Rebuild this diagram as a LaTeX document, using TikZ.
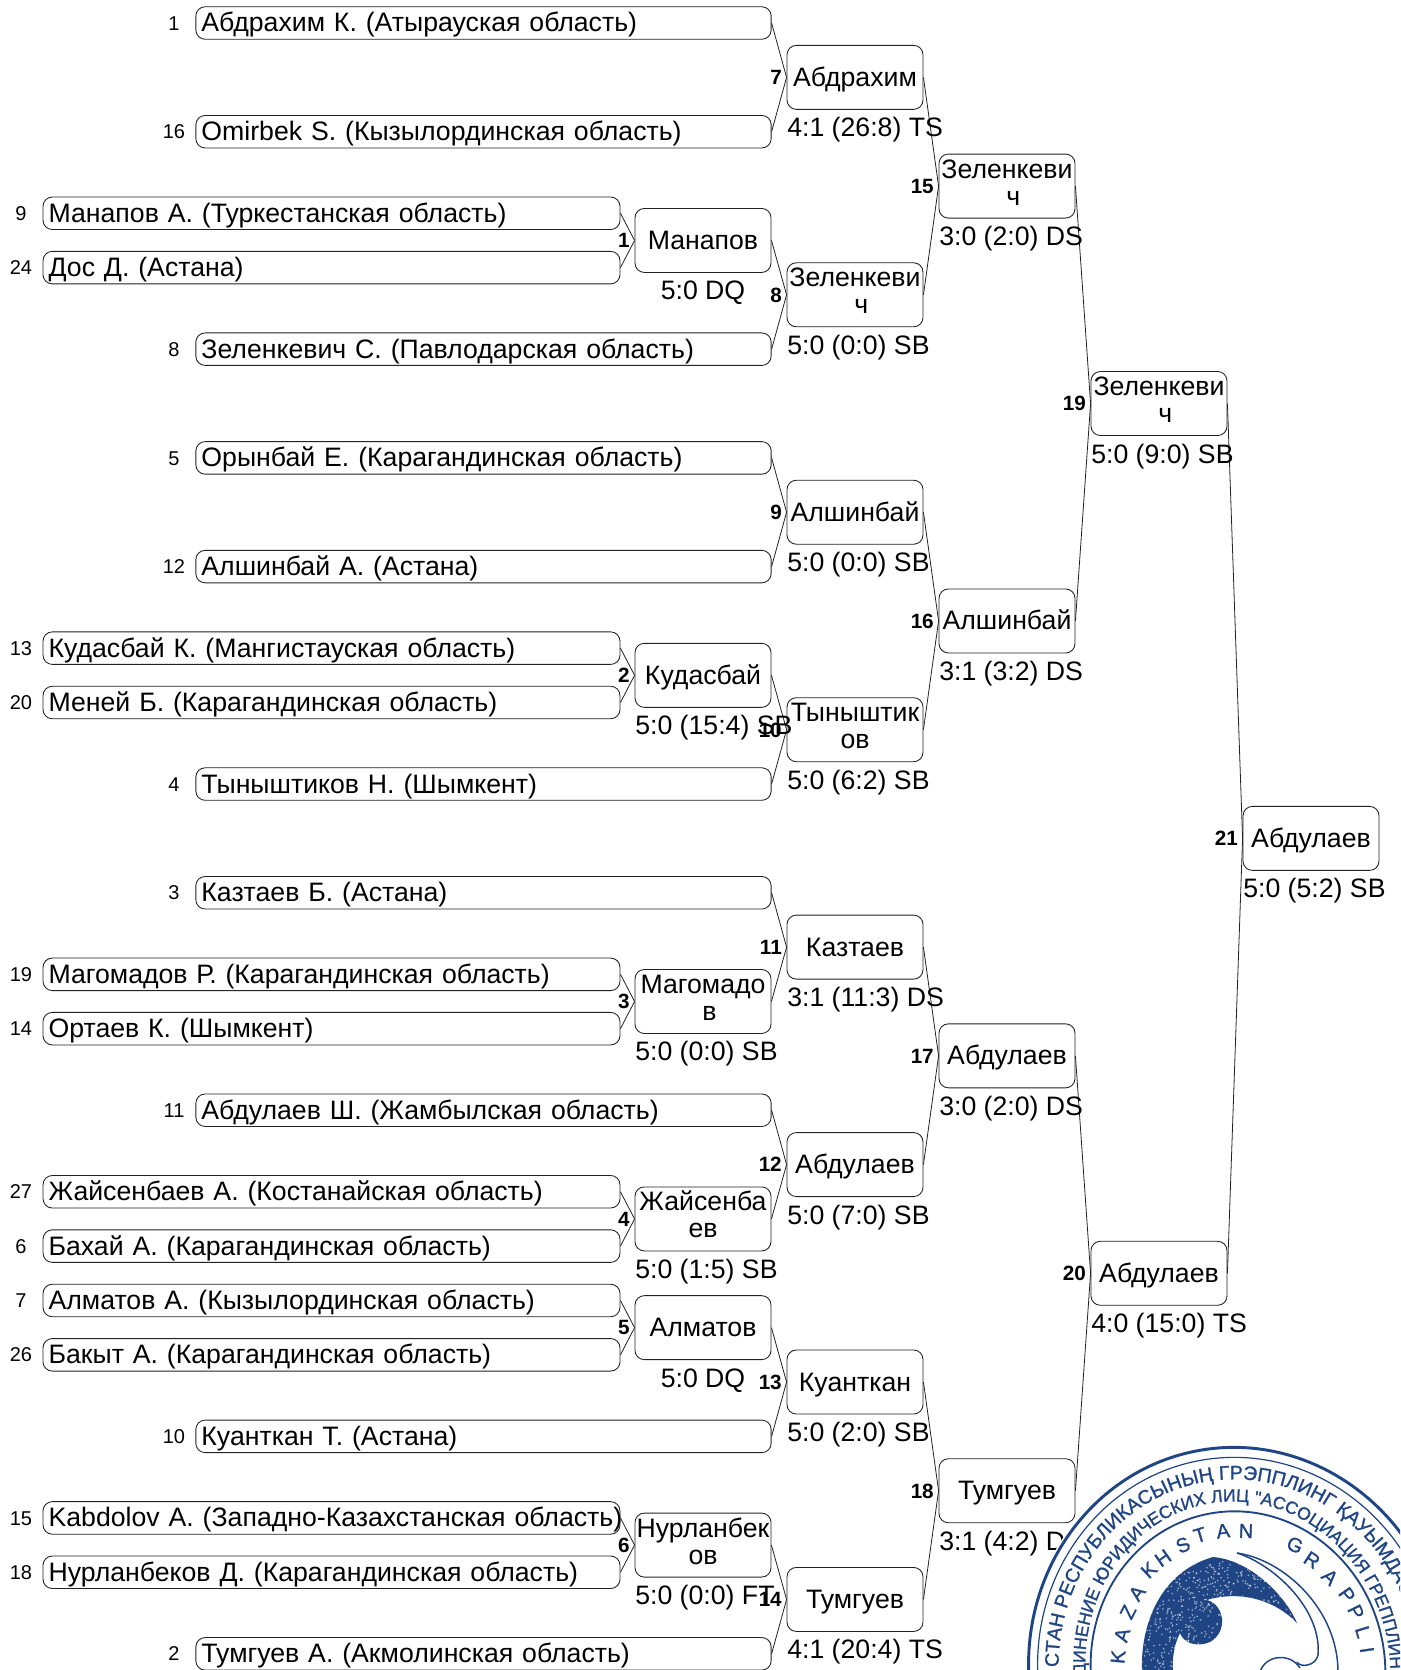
\documentclass[tikz,border=0pt]{standalone}
\usepackage{fontspec}
\setmainfont{Liberation Sans}
\usetikzlibrary{decorations.text}
\definecolor{stampblue}{HTML}{1F4585}
\definecolor{inkline}{HTML}{222222}
\newfontfamily\bandone[LetterSpace=1,FakeBold=1.2]{Liberation Sans}
\newfontfamily\bandthree[FakeBold=1.2]{Liberation Sans}
\tikzset{
  seedbox/.style={draw=inkline,line width=0.65pt,rounded corners=7pt,minimum height=24.4pt,inner xsep=4.2pt,inner ysep=0pt,
    font=\fontsize{20}{20.25}\selectfont,align=left,text height=16pt,text depth=2.5pt},
  winbox/.style={draw=inkline,line width=0.65pt,rounded corners=7pt,minimum width=102pt,minimum height=48pt,inner sep=0pt,
    font=\fontsize{20}{20.25}\selectfont,text height=16pt,text depth=2.5pt},
  seednum/.style={inner sep=0pt,font=\fontsize{15}{15}\selectfont,text height=10.7pt,text depth=0pt},
  matchnum/.style={inner sep=0pt,anchor=east,font=\fontsize{15.5}{15.5}\bfseries\selectfont,text height=11pt,text depth=0pt},
  scoretext/.style={inner sep=0pt,font=\fontsize{20}{20.25}\selectfont},
  conn/.style={draw=inkline,line width=0.6pt},
  ring/.style={draw=stampblue},
  stampletter/.style={inner sep=0pt,text=stampblue,font=\bandthree\fontsize{15}{15}\selectfont},
}
% name, row, seed, text
\newcommand\seedL[4]{%
  \node[seedbox,text width=423.1pt] (#1) at (483.5,{23+27.18*#2}) {\mbox{#4}};
  \node[seednum] (n#1) at (174,{23+27.18*#2}) {#3};}
\newcommand\seedS[4]{%
  \node[seedbox,text width=424.35pt] (#1) at (331.5,{23+27.18*#2}) {\mbox{#4}};
  \node[seednum] (n#1) at (21,{23+27.18*#2}) {#3};}
% name, left, row, number, text
\newcommand\win[5]{%
  \node[winbox] (#1) at ({#2+68},{23+27.18*#3}) {#5};
  \node[matchnum] (n#1) at ({#2-5},{23+27.18*#3}) {#4};}
\newcommand\scoreL[4]{\node[scoretext,anchor=base west] (t#1) at (#2,{23+27.18*#3+59.5}) {#4};}
\newcommand\scoreC[4]{\node[scoretext,anchor=base] (t#1) at ({#2+68},{23+27.18*#3+59.5}) {#4};}
\newcommand\twol[2]{\raisebox{12.75pt}[0pt][0pt]{\begin{tabular}[t]{@{}c@{}}#1\\#2\end{tabular}}}
\newcommand\zel{\twol{Зеленкеви}{\hspace*{9.5pt}ч}}
\begin{document}
\begin{tikzpicture}[x=0.75pt,y=-0.75pt]
\useasboundingbox (0,0) rectangle (1400,1670);
% first column
\seedL{a}{0}{1}{Абдрахим К. (Атырауская область)}
\seedL{b}{4}{16}{Omirbek S. (Кызылординская область)}
\seedS{c}{7}{9}{Манапов А. (Туркестанская область)}
\seedS{d}{9}{24}{Дос Д. (Астана)}
\seedL{e}{12}{8}{Зеленкевич С. (Павлодарская область)}
\seedL{f}{16}{5}{Орынбай Е. (Карагандинская область)}
\seedL{g}{20}{12}{Алшинбай А. (Астана)}
\seedS{h}{23}{13}{Кудасбай К. (Мангистауская область)}
\seedS{i}{25}{20}{Меней Б. (Карагандинская область)}
\seedL{j}{28}{4}{Тыныштиков Н. (Шымкент)}
\seedL{k}{32}{3}{Казтаев Б. (Астана)}
\seedS{l}{35}{19}{Магомадов Р. (Карагандинская область)}
\seedS{m}{37}{14}{Ортаев К. (Шымкент)}
\seedL{n}{40}{11}{Абдулаев Ш. (Жамбылская область)}
\seedS{o}{43}{27}{Жайсенбаев А. (Костанайская область)}
\seedS{p}{45}{6}{Бахай А. (Карагандинская область)}
\seedS{q}{47}{7}{Алматов А. (Кызылординская область)}
\seedS{r}{49}{26}{Бакыт А. (Карагандинская область)}
\seedL{s}{52}{10}{Куанткан Т. (Астана)}
\seedS{t}{55}{15}{Kabdolov А. (Западно-Казахстанская область)}
\seedS{u}{57}{18}{Нурланбеков Д. (Карагандинская область)}
\seedL{v}{60}{2}{Тумгуев А. (Акмолинская область)}
% round boxes
\win{w1}{635}{8}{1}{Манапов}
\win{w2}{635}{24}{2}{Кудасбай}
\win{w3}{635}{36}{3}{\twol{Магомадо}{\hspace*{9.5pt}в}}
\win{w4}{635}{44}{4}{\twol{Жайсенба}{ев}}
\win{w5}{635}{48}{5}{Алматов}
\win{w6}{635}{56}{6}{\twol{Нурланбек}{ов}}
\win{w7}{787}{2}{7}{Абдрахим}
\win{w8}{787}{10}{8}{\zel}
\win{w9}{787}{18}{9}{Алшинбай}
\win{w10}{787}{26}{10}{\twol{Тыныштик}{ов}}
\win{w11}{787}{34}{11}{Казтаев}
\win{w12}{787}{42}{12}{Абдулаев}
\win{w13}{787}{50}{13}{Куанткан}
\win{w14}{787}{58}{14}{Тумгуев}
\win{w15}{939}{6}{15}{\zel}
\win{w16}{939}{22}{16}{Алшинбай}
\win{w17}{939}{38}{17}{Абдулаев}
\win{w18}{939}{54}{18}{Тумгуев}
\win{w19}{1091}{14}{19}{\zel}
\win{w20}{1091}{46}{20}{Абдулаев}
\win{w21}{1243}{30}{21}{Абдулаев}
% connectors
\foreach \p/\q in {a/w7,b/w7,c/w1,d/w1,e/w8,f/w9,g/w9,h/w2,i/w2,j/w10,k/w11,l/w3,m/w3,n/w12,o/w4,p/w4,q/w5,r/w5,s/w13,t/w6,u/w6,v/w14,
  w1/w8,w2/w10,w3/w11,w4/w12,w5/w13,w6/w14,w7/w15,w8/w15,w9/w16,w10/w16,w11/w17,w12/w17,w13/w18,w14/w18,w15/w19,w16/w19,w17/w20,w18/w20,w19/w21,w20/w21}
  \draw[conn] (\p.east) -- (\q.west);
% scores
\scoreC{w1}{635}{8}{5:0 DQ}
\scoreL{w2}{635}{24}{5:0 (15:4) SB}
\scoreL{w3}{635}{36}{5:0 (0:0) SB}
\scoreL{w4}{635}{44}{5:0 (1:5) SB}
\scoreC{w5}{635}{48}{5:0 DQ}
\scoreL{w6}{635}{56}{5:0 (0:0) FT}
\scoreL{w7}{787}{2}{4:1 (26:8) TS}
\scoreL{w8}{787}{10}{5:0 (0:0) SB}
\scoreL{w9}{787}{18}{5:0 (0:0) SB}
\scoreL{w10}{787}{26}{5:0 (6:2) SB}
\scoreL{w11}{787}{34}{3:1 (11:3) DS}
\scoreL{w12}{787}{42}{5:0 (7:0) SB}
\scoreL{w13}{787}{50}{5:0 (2:0) SB}
\scoreL{w14}{787}{58}{4:1 (20:4) TS}
\scoreL{w15}{939}{6}{3:0 (2:0) DS}
\scoreL{w16}{939}{22}{3:1 (3:2) DS}
\scoreL{w17}{939}{38}{3:0 (2:0) DS}
\scoreL{w18}{939}{54}{3:1 (4:2) DS}
\scoreL{w19}{1091}{14}{5:0 (9:0) SB}
\scoreL{w20}{1091}{46}{4:0 (15:0) TS}
\scoreL{w21}{1243}{30}{5:0 (5:2) SB}
% stamp
\begin{scope}
\clip (0,0) rectangle (1400,1670);
\begin{scope}[shift={(1238,1669)},rotate=10,x=0.75pt,y=0.75pt]
  \fill[white] (0,0) ellipse[x radius=212,y radius=225];
  \draw[ring,line width=2.2pt] (0,0) ellipse[x radius=209,y radius=222];
  \draw[ring,line width=0.9pt] (0,0) ellipse[x radius=200,y radius=212];
  \draw[ring,line width=1.4pt] (0,0) ellipse[x radius=147,y radius=158];
  \path[decorate,decoration={text along path,raise=0pt,text align=left,
     text={|\bandone\fontsize{14.6}{14.6}\selectfont\color{stampblue}|СТАН РЕСПУБЛИКАСЫНЫҢ ГРЭППЛИНГ ҚАУЫМДАС}}]
     (0,0) ++(170:179 and 190) arc[start angle=170,end angle=-70,x radius=179,y radius=190];
  \path[decorate,decoration={text along path,raise=0pt,text align=left,
     text={|\bandone\fontsize{13.2}{13.2}\selectfont\color{stampblue}|ДИНЕНИЕ ЮРИДИЧЕСКИХ ЛИЦ "АССОЦИАЦИЯ ГРЕППЛИНГ А}}]
     (0,0) ++(173:152 and 168) arc[start angle=173,end angle=-70,x radius=152,y radius=168];
\end{scope}
\foreach \c/\x/\y in {K/1118/1657,A/1122/1635,Z/1128/1612,A/1137/1593,K/1149/1570,H/1163/1558,S/1183/1545,T/1200/1535,A/1223/1531,N/1246/1531,G/1295/1545,R/1312/1560,A/1330/1577,P/1347/1595,P/1356/1612,L/1363/1632,I/1367/1650}{
  \pgfmathsetmacro\ang{-atan2(\x-1241,1669-\y)}
  \node[stampletter,rotate=\ang] at (\x,\y) {\c};
}
% swirl
\begin{scope}
\clip (1142,1672) .. controls (1140,1625) and (1160,1572) .. (1213,1557)
   .. controls (1250,1560) and (1285,1595) .. (1297,1623)
   .. controls (1275,1600) and (1240,1590) .. (1207,1600)
   .. controls (1225,1605) and (1228,1632) .. (1210,1642)
   .. controls (1195,1648) and (1183,1642) .. (1180,1633)
   .. controls (1174,1645) and (1172,1658) .. (1173,1672) -- cycle;
\fill[stampblue] (1130,1540) rectangle (1310,1680);
\pgfmathsetseed{11}
\foreach \i in {1,...,900}{
  \pgfmathsetmacro\dx{1140+rnd*160}
  \pgfmathsetmacro\dy{1555+rnd*117}
  \fill[white,opacity=.55] (\dx,\dy) circle[radius=.9];
}
\end{scope}
% crescents
\draw[stampblue,line width=1.1pt] (1237,1553) .. controls (1285,1560) and (1338,1610) .. (1338,1672);
\draw[stampblue,line width=1.1pt] (1237,1553) .. controls (1275,1565) and (1322,1610) .. (1318,1655) .. controls (1316,1666) and (1300,1668) .. (1297,1662);
\draw[stampblue,line width=1.1pt] (1260,1672) .. controls (1265,1655) and (1290,1652) .. (1300,1668);
\end{scope}
\end{tikzpicture}
\end{document}
